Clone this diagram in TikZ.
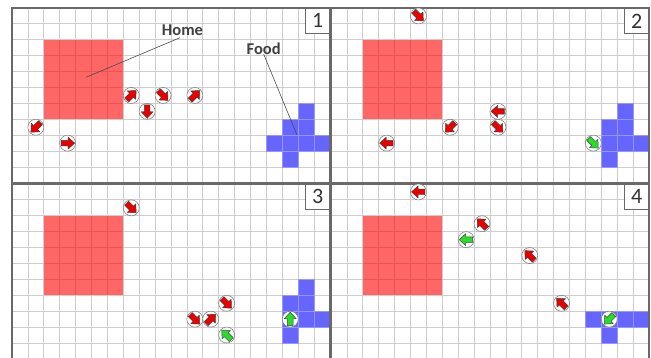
\documentclass[tikz,border=0pt]{standalone}
\usepackage{fontspec}
\setmainfont{Carlito}
\definecolor{gridc}{RGB}{205,205,205}
\definecolor{borderc}{RGB}{105,105,105}
\definecolor{foodblue}{RGB}{102,102,255}
\definecolor{foodedge}{RGB}{150,150,255}
\definecolor{antred}{RGB}{235,0,0}
\definecolor{antgreen}{RGB}{40,220,40}
\newcommand\antmark[5]{%
  \node[antbody] (#1) at ({(#2+0.5)*\cs},{(#3+0.5)*\cs}) {};
  \begin{scope}[shift={({(#2+0.5)*\cs},{(#3+0.5)*\cs})}, rotate=#4]
    \filldraw[antarrow, fill=#5] (-6.5,-2.8) -- (0.4,-2.8) -- (0.4,-6.0) -- (7.0,0) -- (0.4,6.0) -- (0.4,2.8) -- (-6.5,2.8) -- cycle;
  \end{scope}}
\newcommand\gridpanel{%
  \foreach \i in {0,...,20} \draw[gridline] (\i*\cs,0) -- (\i*\cs,11*\cs);
  \foreach \j in {0,...,11} \draw[gridline] (0,\j*\cs) -- (20*\cs,\j*\cs);
  \fill[homefill] (2*\cs,2*\cs) rectangle (7*\cs,7*\cs);}
\begin{document}
\begin{tikzpicture}[x=1pt,y=-1pt,
  gridline/.style={draw=gridc, line width=0.8pt},
  panelborder/.style={draw=borderc, line width=1.1pt},
  homefill/.style={fill=red, fill opacity=0.6},
  foodcell/.style={fill=foodblue, draw=foodedge, line width=0.6pt},
  antbody/.style={circle, draw=black!55, line width=0.5pt, fill=white, minimum size=16pt, inner sep=0pt},
  antarrow/.style={draw=black!75, line width=0.45pt, line join=round},
  numbox/.style={draw=borderc, fill=white, line width=0.8pt, minimum width=24pt, minimum height=25pt, inner sep=0pt, font=\fontsize{22}{22}\selectfont, text=black!80, anchor=north east},
  annot/.style={font=\bfseries\fontsize{16.5}{16.5}\selectfont, text=black!75, inner sep=0pt},
  leader/.style={draw=black!70, line width=0.6pt}]
\def\cs{15.9}
\useasboundingbox (0,0) rectangle (651,358);
\clip (0,0) rectangle (651,358);
% ---------------- Panel 1
\begin{scope}[shift={(12,8)}]
  \gridpanel
  \foreach \i/\j in {18/6,17/7,18/7,16/8,17/8,18/8,19/8,17/9}
    \filldraw[foodcell] (\i*\cs,\j*\cs) rectangle ++(\cs,\cs);
  \draw[panelborder] (0,0) rectangle (20*\cs,11*\cs);
  \node[numbox] (n1) at (20*\cs,0) {1};
  \antmark{p1a}{7}{5}{45}{antred}
  \antmark{p1b}{9}{5}{-45}{antred}
  \antmark{p1c}{11}{5}{45}{antred}
  \antmark{p1d}{8}{6}{270}{antred}
  \antmark{p1e}{1}{7}{225}{antred}
  \antmark{p1f}{3}{8}{0}{antred}
\end{scope}
% ---------------- Panel 2
\begin{scope}[shift={(331,8)}]
  \gridpanel
  \foreach \i/\j in {18/6,17/7,18/7,17/8,18/8,19/8,17/9}
    \filldraw[foodcell] (\i*\cs,\j*\cs) rectangle ++(\cs,\cs);
  \draw[panelborder] (0,0) rectangle (20*\cs,11*\cs);
  \node[numbox] (n2) at (20*\cs,0) {2};
  \antmark{p2a}{5}{0}{-45}{antred}
  \antmark{p2b}{10}{6}{180}{antred}
  \antmark{p2c}{10}{7}{-45}{antred}
  \antmark{p2d}{7}{7}{225}{antred}
  \antmark{p2e}{3}{8}{180}{antred}
  \antmark{p2f}{16}{8}{-45}{antgreen}
\end{scope}
% ---------------- Panel 3
\begin{scope}[shift={(12,184)}]
  \gridpanel
  \foreach \i/\j in {18/6,17/7,18/7,17/8,18/8,19/8,17/9}
    \filldraw[foodcell] (\i*\cs,\j*\cs) rectangle ++(\cs,\cs);
  \draw[panelborder] (0,0) rectangle (20*\cs,11*\cs);
  \node[numbox] (n3) at (20*\cs,0) {3};
  \antmark{p3a}{7}{1}{-45}{antred}
  \antmark{p3b}{11}{8}{-45}{antred}
  \antmark{p3c}{12}{8}{45}{antred}
  \antmark{p3d}{13}{7}{-45}{antred}
  \antmark{p3e}{13}{9}{135}{antgreen}
  \antmark{p3f}{17}{8}{90}{antgreen}
\end{scope}
% ---------------- Panel 4
\begin{scope}[shift={(331,184)}]
  \gridpanel
  \foreach \i/\j in {16/8,17/8,18/8,19/8,17/9}
    \filldraw[foodcell] (\i*\cs,\j*\cs) rectangle ++(\cs,\cs);
  \draw[panelborder] (0,0) rectangle (20*\cs,11*\cs);
  \node[numbox] (n4) at (20*\cs,0) {4};
  \antmark{p4a}{5}{0}{180}{antred}
  \antmark{p4b}{9}{2}{135}{antred}
  \antmark{p4c}{8}{3}{180}{antgreen}
  \antmark{p4d}{12}{4}{135}{antred}
  \antmark{p4e}{14}{7}{135}{antred}
  \antmark{p4f}{17}{8}{225}{antgreen}
\end{scope}
% ---------------- Annotations
\node[annot] (home) at (182.5,30) {Home};
\node[annot] (food) at (263.7,49.2) {Food};
\coordinate (homept) at (86,77.3);
\coordinate (foodpt) at (297,135);
\draw[leader] (180,37.7) -- (homept);
\draw[leader] (food.south) ++(0,-1) -- (foodpt);
\end{tikzpicture}
\end{document}
